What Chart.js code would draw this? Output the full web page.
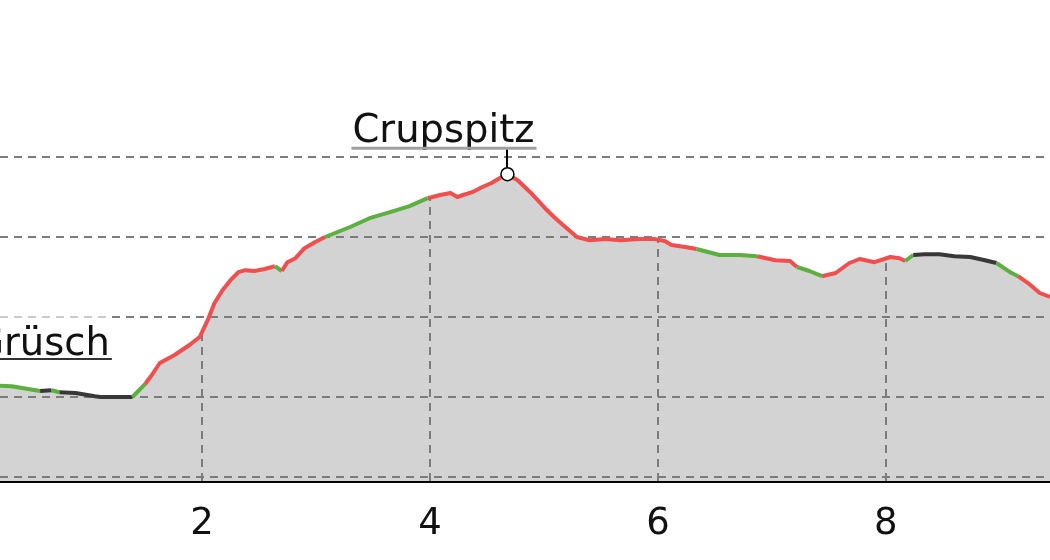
<!DOCTYPE html>
<html><head><meta charset="utf-8">
<script src="https://cdn.jsdelivr.net/npm/chart.js@4.4.1/dist/chart.umd.min.js"></script>
<style>html,body{margin:0;padding:0;background:#fff;overflow:hidden}canvas{display:block}</style>
</head><body>
<canvas id="c" width="1050" height="560"></canvas>
<script>
// distance along the route (km)
const distanceKm = [0.00,0.33,0.58,0.68,0.75,0.89,1.06,1.11,1.39,1.50,1.56,1.63,1.76,1.89,1.98,2.05,2.11,2.18,2.25,2.32,2.38,2.46,2.55,2.64,2.70,2.75,2.82,2.90,2.99,3.08,3.30,3.47,3.65,3.82,3.98,4.09,4.18,4.24,4.29,4.37,4.46,4.54,4.61,4.68,4.77,4.88,5.01,5.10,5.18,5.29,5.40,5.54,5.67,5.84,5.97,6.06,6.12,6.24,6.34,6.54,6.72,6.87,7.03,7.16,7.22,7.33,7.44,7.56,7.68,7.77,7.90,8.04,8.12,8.17,8.24,8.34,8.47,8.60,8.74,8.87,8.97,9.09,9.16,9.26,9.35,9.44,9.52];
// elevation (m)
const elevationM = [630,627,615,617,612,610,602,600,600,632,655,685,705,730,750,792,835,867,892,912,917,915,920,927,915,937,947,972,987,1000,1025,1047,1062,1077,1097,1105,1110,1100,1105,1112,1125,1135,1147,1157,1142,1112,1072,1047,1027,1000,992,995,992,995,995,990,980,975,970,955,955,952,942,940,925,915,902,910,935,945,937,950,947,940,955,957,957,952,950,942,935,912,902,882,860,850,832];
// surface class of the segment starting at each point: g = green, d = dark, r = red
const segmentClass = ['g','g','d','g','d','d','d','d','g',
  'r','r','r','r','r','r','r','r','r','r','r','r','r','r',
  'g','r','r','r','r','r',
  'g','g','g','g','g',
  'r','r','r','r','r','r','r','r','r','r','r','r','r','r','r','r','r','r','r','r','r','r','r','r',
  'g','g','g','r','r','r','g','g',
  'r','r','r','r','r','r','r',
  'g','d','d','d','d','d','d','g','g',
  'r','r','r','r','r'];
const xTicks = [2,4,6,8];
const yTicks = [400,600,800,1000,1200];
const xRange = [0.228, 9.44];
const yRange = [390, 1350];
const waypointNames = ['Grüsch','Crupspitz'];
const waypointKm = [0.00, 4.68];
const waypointElev = [630, 1157];

const classColors = {g:'#5cb040', d:'#383838', r:'#f24e4e'};
const points = distanceKm.map((d,i)=>({x:d, y:elevationM[i]}));

const gridPlugin = {
  id:'profileGrid',
  afterDatasetDraw(chart, args){
    if (args.index !== 2) return;
    const {ctx, chartArea:a, scales:{x,y}} = chart;
    const pts = args.meta.data;
    ctx.save();
    ctx.lineWidth = 2;
    ctx.strokeStyle = '#7c7c7c';
    ctx.setLineDash([8,6]);
    ctx.save();
    ctx.beginPath();
    ctx.moveTo(pts[0].x, a.bottom);
    pts.forEach(p=>ctx.lineTo(p.x, p.y));
    ctx.lineTo(pts[pts.length-1].x, a.bottom);
    ctx.closePath();
    ctx.clip();
    x.ticks.forEach(t=>{
      const px = Math.round(x.getPixelForValue(t.value));
      ctx.beginPath(); ctx.moveTo(px, a.bottom); ctx.lineTo(px, a.top); ctx.stroke();
    });
    ctx.restore();
    y.ticks.forEach(t=>{
      const py = Math.round(y.getPixelForValue(t.value));
      ctx.beginPath(); ctx.moveTo(a.left, py); ctx.lineTo(a.right, py); ctx.stroke();
    });
    ctx.restore();
  }
};

const labelStyle = [
  {dx:68, dy:-30, ul:4, ulColor:'#333333', ulWidth:2, stem:false},
  {dx:-64, dy:-32, ul:6, ulColor:'#a0a0a0', ulWidth:3, stem:true}
];
const labelPlugin = {
  id:'waypointLabels',
  afterDraw(chart){
    const {ctx, scales:{x,y}} = chart;
    ctx.save();
    ctx.font = '38.5px "DejaVu Sans"';
    ctx.textBaseline = 'alphabetic';
    ctx.textAlign = 'left';
    waypointNames.forEach((name,i)=>{
      const s = labelStyle[i];
      const px = x.getPixelForValue(waypointKm[i]);
      const py = y.getPixelForValue(waypointElev[i]);
      const w = ctx.measureText(name).width;
      const left = px + s.dx - w/2;
      const base = py + s.dy;
      ctx.fillStyle = 'rgba(255,255,255,0.6)';
      ctx.fillRect(left-2, base-40, w+4, 52);
      if (s.stem){
        ctx.strokeStyle = '#000'; ctx.lineWidth = 2;
        ctx.beginPath(); ctx.moveTo(Math.round(px), base+s.ul+1); ctx.lineTo(Math.round(px), py-7); ctx.stroke();
      }
      ctx.fillStyle = '#111';
      ctx.fillText(name, left, base);
      ctx.strokeStyle = s.ulColor; ctx.lineWidth = s.ulWidth;
      ctx.beginPath(); ctx.moveTo(left-1, base+s.ul); ctx.lineTo(left+w+2, base+s.ul); ctx.stroke();
    });
    ctx.restore();
  }
};

new Chart(document.getElementById('c'), {
  type:'line',
  data:{datasets:[
    {label:'summit', data:[{x:waypointKm[1], y:waypointElev[1]}], showLine:false,
     pointRadius:6.5, pointBackgroundColor:'#ffffff', pointBorderColor:'#000000', pointBorderWidth:1.5, order:0, clip:false},
    {label:'profile', data:points, borderWidth:4, borderColor:classColors.r,
     segment:{borderColor:c=>classColors[segmentClass[c.p0DataIndex]]},
     pointRadius:0, fill:false, tension:0, borderJoinStyle:'round', borderCapStyle:'butt', order:1},
    {label:'area', data:points, backgroundColor:'#d3d3d3', borderColor:'rgba(0,0,0,0)', borderWidth:0,
     fill:'start', pointRadius:0, tension:0, order:2}
  ]},
  options:{
    responsive:false, animation:false, devicePixelRatio:1,
    layout:{autoPadding:false, padding:{top:97,left:0,right:0,bottom:0}},
    plugins:{legend:{display:false}, tooltip:{enabled:false}},
    scales:{
      x:{type:'linear', min:xRange[0], max:xRange[1], z:1,
         grid:{display:false, drawTicks:false},
         border:{display:true, color:'#000', width:3},
         ticks:{font:{family:'DejaVu Sans', size:37}, color:'#111', padding:21, maxRotation:0, autoSkip:false},
         afterBuildTicks:s=>{s.ticks = xTicks.map(v=>({value:v}));},
         afterFit:s=>{s.height = 79; s.paddingLeft = 0; s.paddingRight = 0;}},
      y:{type:'linear', min:yRange[0], max:yRange[1],
         grid:{display:false, drawTicks:false}, border:{display:false},
         ticks:{display:false},
         afterBuildTicks:s=>{s.ticks = yTicks.map(v=>({value:v}));},
         afterFit:s=>{s.width = 0; s.paddingTop = 0; s.paddingBottom = 0;}}
    }
  },
  plugins:[gridPlugin, labelPlugin]
});
</script>
</body></html>
